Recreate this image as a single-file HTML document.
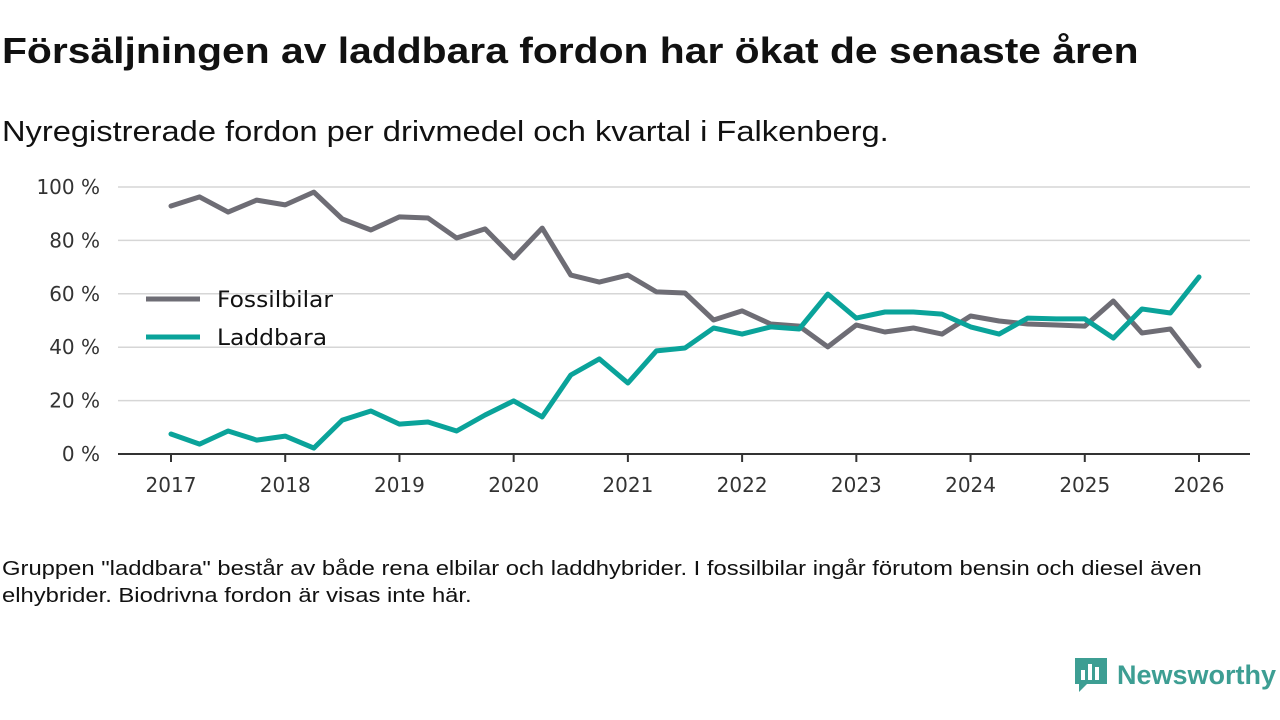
<!DOCTYPE html>
<html lang="sv">
<head>
<meta charset="utf-8">
<style>
  html,body{margin:0;padding:0;background:#fff;}
  body{width:1280px;height:720px;position:relative;overflow:hidden;font-family:"Liberation Sans","DejaVu Sans",sans-serif;color:#111;}
  .title{position:absolute;left:2px;top:30px;font-size:36px;font-weight:bold;transform:scaleX(1.134);transform-origin:left top;white-space:nowrap;}
  .subtitle{position:absolute;left:2px;top:116px;font-size:29px;transform:scaleX(1.125);transform-origin:left top;white-space:nowrap;}
  .note{position:absolute;left:2px;top:556px;font-size:20px;line-height:27px;transform:scaleX(1.19);transform-origin:left top;white-space:nowrap;}
  svg{position:absolute;left:0;top:0;}
  .logo{position:absolute;left:1073px;top:656px;display:flex;align-items:center;}
  .logo span{font-size:27px;font-weight:bold;color:#3d9e93;margin-left:8px;}
</style>
</head>
<body>
<div class="title">Försäljningen av laddbara fordon har ökat de senaste åren</div>
<div class="subtitle">Nyregistrerade fordon per drivmedel och kvartal i Falkenberg.</div>
<svg id="chart" width="1280" height="720"></svg>
<div class="note">Gruppen "laddbara" består av både rena elbilar och laddhybrider. I fossilbilar ingår förutom bensin och diesel även<br>elhybrider. Biodrivna fordon är visas inte här.</div>
<div class="logo">
  <svg width="36" height="38" viewBox="0 0 36 38" style="position:static">
    <path d="M2 2h32v26H14l-8 8v-8H2z" fill="#3d9e93"/>
    <rect x="8" y="14" width="4" height="10" fill="#fff"/>
    <rect x="15" y="8" width="4" height="16" fill="#fff"/>
    <rect x="22" y="11" width="4" height="13" fill="#fff"/>
  </svg>
  <span>Newsworthy</span>
</div>
<script>
const yearTicks = [2017,2018,2019,2020,2021,2022,2023,2024,2025,2026];
const yTicks = [0,20,40,60,80,100];
const fossil = [92.9,96.3,90.6,95.1,93.3,98.1,88,83.9,88.8,88.4,80.9,84.3,73.4,84.6,67,64.4,67,60.7,60.3,50.2,53.6,48.7,47.9,40.1,48.3,45.7,47.2,44.9,51.7,49.8,48.7,48.3,47.9,57.3,45.3,46.8,33];
const laddbara = [7.5,3.7,8.6,5.2,6.7,2.2,12.7,16.1,11.2,12,8.6,14.6,19.9,13.9,29.6,35.6,26.6,38.6,39.7,47.2,44.9,47.6,46.8,59.9,50.9,53.2,53.2,52.4,47.6,44.9,50.9,50.6,50.6,43.4,54.3,52.8,66.3];

const NS="http://www.w3.org/2000/svg";
const svg=document.getElementById('chart');
const FONT='DejaVu Sans, Liberation Sans, sans-serif';
const xs=t=>171+(t-2017)*(1199-171)/9;
const ys=v=>454-v*(454-187)/100;
function mk(tag,attrs){const e=document.createElementNS(NS,tag);for(const k in attrs)e.setAttribute(k,attrs[k]);svg.appendChild(e);return e;}

yTicks.forEach(v=>{
  if(v>0){const g=mk('line',{x1:118,x2:1250,y1:ys(v),y2:ys(v),stroke:'#d6d6d6','stroke-width':1.5});
  
  }
  const t=mk('text',{x:100,y:ys(v)+7,'text-anchor':'end','font-size':20,fill:'#333','font-family':FONT});
  t.textContent=v+' %';
  
  
});
const ax=mk('line',{x1:118,x2:1250,y1:454,y2:454,stroke:'#333','stroke-width':2});


yearTicks.forEach(y=>{
  const tk=mk('line',{x1:xs(y),x2:xs(y),y1:454,y2:462,stroke:'#333','stroke-width':2});
  
  
  const t=mk('text',{x:xs(y),y:492,'text-anchor':'middle','font-size':20,fill:'#333','font-family':FONT});
  t.textContent=y;
  
  
});
function line(data,color,name){
  const d=data.map((v,i)=>(i?'L':'M')+xs(2017+i/4).toFixed(1)+','+ys(v).toFixed(1)).join(' ');
  const p=mk('path',{d:d,fill:'none',stroke:color,'stroke-width':5,'stroke-linejoin':'round','stroke-linecap':'round'});
  
  
}
line(fossil,'#6e6d75','fossilbilar-line');
line(laddbara,'#0aa39a','laddbara-line');

[['Fossilbilar','#6e6d75',299,116],['Laddbara','#0aa39a',337,110]].forEach(([n,c,y,w])=>{
  const l=mk('line',{x1:146,x2:200,y1:y,y2:y,stroke:c,'stroke-width':5});
  
  
  const t=mk('text',{x:217,y:y+8,'font-size':22,fill:'#111','font-family':FONT,textLength:w,lengthAdjust:'spacingAndGlyphs'});
  t.textContent=n;
  
  
});
</script>
</body>
</html>
